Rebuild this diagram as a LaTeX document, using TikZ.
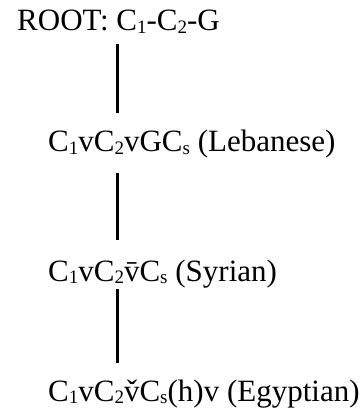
\documentclass[tikz,border=0pt]{standalone}
\usepackage{fontspec}
\setmainfont{Liberation Serif}
\newcommand{\lowsub}[1]{\raisebox{-2.5pt}{\fontsize{19}{19}\selectfont #1}}
\begin{document}
\begin{tikzpicture}[x=1pt,y=1pt,
  lbl/.style={anchor=base west, inner sep=0pt, font=\fontsize{31}{36}\selectfont},
  stem/.style={line width=3.5pt, line cap=butt}]
\useasboundingbox (0,0) rectangle (362,-419);
\node[lbl] (root) at (17,-31) {ROOT: C\lowsub{1}-C\lowsub{2}-G};
\node[lbl] (leb) at (48,-152) {C\lowsub{1}vC\lowsub{2}vGC\lowsub{s} (Lebanese)};
\node[lbl] (syr) at (48,-281) {C\lowsub{1}vC\lowsub{2}\={v}C\lowsub{s} (Syrian)};
\node[lbl] (egy) at (48,-401) {C\lowsub{1}vC\lowsub{2}\v{v}C\lowsub{s}(h)v (Egyptian)};
\coordinate (a1) at (117.5,-44);
\coordinate (a2) at (117.5,-113);
\coordinate (b1) at (117.5,-173);
\coordinate (b2) at (117.5,-240);
\coordinate (c1) at (117.5,-289);
\coordinate (c2) at (117.5,-363);
\draw[stem] (a1) -- (a2);
\draw[stem] (b1) -- (b2);
\draw[stem] (c1) -- (c2);
\end{tikzpicture}
\end{document}
